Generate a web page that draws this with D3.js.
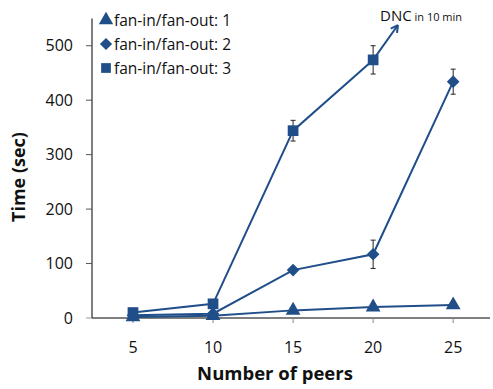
<!DOCTYPE html>
<html>
    <head>
        <meta charset="utf-8" />
        <script src="https://d3js.org/d3.v7.min.js"></script>
        <style>
            body {
                margin: 0;
                background-color: white;
            }
            text {
                font-family: 'Open Sans', sans-serif;
                fill: #111;
            }
        </style>
    </head>
    <body>
        <svg></svg>
        <script>
            const peers = [5, 10, 15, 20, 25]
            const fan1 = [2, 4, 14, 20, 24]
            const fan2 = [5, 8, 88, 117, 434]
            const fan3 = [10, 26, 344, 474]
            // error bars (+/-), null where none is drawn
            const err2 = [null, null, null, 26, 23]
            const err3 = [null, null, 19, 26]
            const yTicks = [0, 100, 200, 300, 400, 500]
            const seriesNames = ['fan-in/fan-out: 1', 'fan-in/fan-out: 2', 'fan-in/fan-out: 3']
            // "did not complete" arrow end (peers, sec)
            const dncEnd = [21.55, 538]

            const width = 493
            const height = 389
            const color = '#1f4e89'

            const svg = d3.select('svg')
                .attr('width', width)
                .attr('height', height)

            const x = d3.scaleLinear().domain([2.44, 27.3]).range([92, 490])
            const y = d3.scaleLinear().domain([0, 550]).range([318, 18.5])

            // y axis
            svg.append('line')
                .attr('x1', x(2.44)).attr('x2', x(2.44))
                .attr('y1', y(550)).attr('y2', y(0))
                .style('stroke', '#000')
            yTicks.forEach((t) => {
                svg.append('line')
                    .attr('x1', x(2.44) - 6).attr('x2', x(2.44))
                    .attr('y1', y(t)).attr('y2', y(t))
                    .style('stroke', t === 0 ? '#999' : '#555')
                svg.append('text')
                    .attr('x', 73).attr('y', y(t) + 5.5)
                    .attr('text-anchor', 'end')
                    .style('font-size', '16px')
                    .text(t)
            })

            // x axis
            svg.append('line')
                .attr('x1', x(2.44)).attr('x2', x(27.3))
                .attr('y1', y(0)).attr('y2', y(0))
                .style('stroke', '#000')
            peers.forEach((p) => {
                svg.append('line')
                    .attr('x1', x(p)).attr('x2', x(p))
                    .attr('y1', y(0)).attr('y2', y(0) + 5)
                    .style('stroke', '#888')
                svg.append('text')
                    .attr('x', x(p)).attr('y', 353)
                    .attr('text-anchor', 'middle')
                    .style('font-size', '16px')
                    .text(p)
            })

            svg.append('text')
                .attr('transform', 'translate(25,177) rotate(-90)')
                .attr('text-anchor', 'middle')
                .style('font-size', '18px')
                .style('font-weight', 'bold')
                .text('Time (sec)')
            svg.append('text')
                .attr('x', 275).attr('y', 380)
                .attr('text-anchor', 'middle')
                .style('font-size', '18.5px')
                .style('font-weight', 'bold')
                .text('Number of peers')

            const line = d3.line()
                .x((d) => x(d[0]))
                .y((d) => y(d[1]))

            // diamond = square turned 45 degrees
            const series = [
                { vals: fan1, err: null, sym: d3.symbolTriangle, size: 95, rot: 0 },
                { vals: fan2, err: err2, sym: d3.symbolSquare, size: 80, rot: 45 },
                { vals: fan3, err: err3, sym: d3.symbolSquare, size: 115, rot: 0 },
            ]

            series.forEach((s) => {
                const pts = s.vals.map((v, i) => [peers[i], v])
                svg.append('path')
                    .attr('d', line(pts))
                    .style('fill', 'none')
                    .style('stroke', color)
                    .style('stroke-width', 2)
                if (s.err) {
                    s.err.forEach((e, i) => {
                        if (e == null) return
                        const cx = x(peers[i])
                        const g = svg.append('g').style('stroke', '#222').style('stroke-width', 1)
                        g.append('line').attr('x1', cx).attr('x2', cx)
                            .attr('y1', y(s.vals[i] + e)).attr('y2', y(s.vals[i] - e))
                        ;[e, -e].forEach((d) => {
                            g.append('line').attr('x1', cx - 2.5).attr('x2', cx + 2.5)
                                .attr('y1', y(s.vals[i] + d)).attr('y2', y(s.vals[i] + d))
                        })
                    })
                }
                svg.selectAll(null)
                    .data(pts)
                    .enter()
                    .append('path')
                    .attr('d', d3.symbol().type(s.sym).size(s.size))
                    .attr('transform', (d) => `translate(${x(d[0])},${y(d[1])}) rotate(${s.rot})`)
                    .style('fill', color)
            })

            // DNC arrow
            const ax0 = x(peers[3]), ay0 = y(fan3[3])
            const ax1 = x(dncEnd[0]), ay1 = y(dncEnd[1])
            svg.append('line')
                .attr('x1', ax0).attr('y1', ay0)
                .attr('x2', ax1).attr('y2', ay1)
                .style('stroke', color)
                .style('stroke-width', 2)
            const ang = Math.atan2(ay1 - ay0, ax1 - ax0)
            const hl = 8
            ;[0.5, -0.5].forEach((a) => {
                svg.append('line')
                    .attr('x1', ax1).attr('y1', ay1)
                    .attr('x2', ax1 - hl * Math.cos(ang + a))
                    .attr('y2', ay1 - hl * Math.sin(ang + a))
                    .style('stroke', color)
                    .style('stroke-width', 2)
            })
            const dnc = svg.append('text').attr('x', 380).attr('y', 21)
            dnc.append('tspan').style('font-size', '15px').text('DNC')
            dnc.append('tspan').style('font-size', '11px').text(' in 10 min')

            // legend
            const legSyms = [
                [d3.symbolTriangle, 90, 0],
                [d3.symbolSquare, 75, 45],
                [d3.symbolSquare, 95, 0],
            ]
            seriesNames.forEach((n, i) => {
                const ly = 20 + i * 24
                const [sym, sz, rot] = legSyms[i]
                svg.append('path')
                    .attr('d', d3.symbol().type(sym).size(sz))
                    .attr('transform', `translate(106,${ly}) rotate(${rot})`)
                    .style('fill', color)
                svg.append('text')
                    .attr('x', 114).attr('y', ly + 5.5)
                    .style('font-size', '15.5px')
                    .text(n)
            })
        </script>
    </body>
</html>
